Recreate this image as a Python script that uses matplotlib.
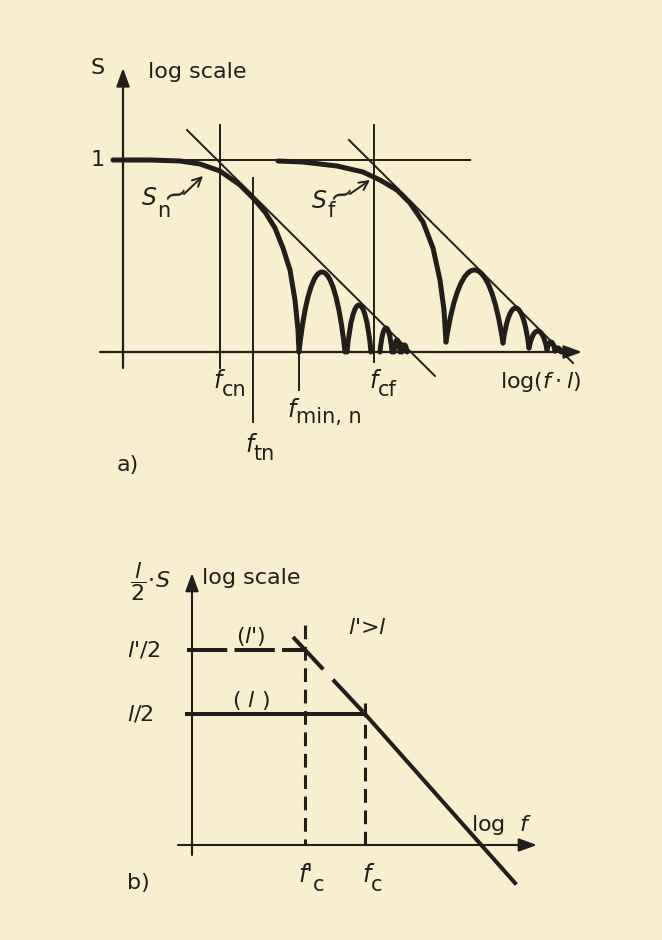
import matplotlib
matplotlib.use("Agg")
import matplotlib.pyplot as plt
from matplotlib.path import Path
from matplotlib.patches import PathPatch

INK = "#221e1a"
PAPER = "#f8efcf"

plt.rcParams["font.family"] = "DejaVu Sans"
plt.rcParams["mathtext.fontset"] = "custom"
plt.rcParams["mathtext.rm"] = "DejaVu Sans"
plt.rcParams["mathtext.it"] = "DejaVu Sans:italic"

# ---- a) S on log scale against log(f*l), drawing units ----
level_one = 192          # S = 1
f_cn, f_tn, f_min_n, f_cf = 97, 130, 176, 251

# main lobe of S_n
sn_main_x = [-10, 27, 57, 77, 97, 117, 130, 142, 152, 160, 167, 172, 175, 176]
sn_main_y = [192, 192, 191, 188, 181, 167, 154, 140, 124, 104, 82, 52, 22, 0]
# side lobes of S_n (left foot, right foot, peak)
sn_lobe_left = [176, 224, 257, 271, 279]
sn_lobe_right = [222, 248, 269, 277, 284]
sn_lobe_peak = [80, 47, 24, 12, 7]

# main lobe of S_f
sf_main_x = [155, 180, 214, 240, 257, 274, 287, 300, 310, 317, 321, 323]
sf_main_y = [191, 190, 186, 180, 172, 162, 149, 130, 104, 72, 42, 10]
# nulls of S_f (position, depth) and lobe peaks between them
sf_null_x = [323, 380, 406, 424, 432, 438]
sf_null_y = [10, 9, 4, 2, 1, 0]
sf_lobe_peak = [82, 44, 21, 10, 4]

# asymptotes
asym_n_x = [64, 312]
asym_n_y = [222, -24]
asym_f_x = [226, 450]
asym_f_y = [212, -11]

# ---- b) (l/2)*S against log f ----
half_l = 131
half_lp = 195
f_c = 173
f_cp = 113
slope_dash_x = [101, 173]
slope_dash_y = [208, 131]
slope_solid_x = [173, 323]
slope_solid_y = [131, -38]

fig = plt.figure(figsize=(6.62, 9.4), dpi=100)
fig.patch.set_facecolor(PAPER)

ax_a = fig.add_axes([0, 0, 1, 1])
ax_a.set_xlim(-123, 539)
ax_a.set_ylim(-588, 352)
ax_b = fig.add_axes([0, 0, 1, 1])
ax_b.set_xlim(-192, 470)
ax_b.set_ylim(-95, 845)
for ax in (ax_a, ax_b):
    ax.axis("off")
    ax.patch.set_alpha(0)

FS = 16
THICK = 3.6
THIN = 1.4


def axis_arrow(ax, x0, y0, x1, y1, lw=1.6):
    ax.annotate("", xy=(x1, y1), xytext=(x0, y0),
                arrowprops=dict(arrowstyle="-|>,head_length=0.55,head_width=0.2",
                                mutation_scale=20, lw=lw, color=INK,
                                shrinkA=0, shrinkB=0))


def lobe(ax, x0, x1, peak, y0=0, y1=0, lw=THICK):
    # arch between two nulls, apex at the peak height
    h = (8 * peak - y0 - y1) / 6
    k = 0.25 * (x1 - x0)
    verts = [(x0, y0), (x0 + k, h), (x1 - k, h), (x1, y1)]
    codes = [Path.MOVETO, Path.CURVE4, Path.CURVE4, Path.CURVE4]
    ax.add_patch(PathPatch(Path(verts, codes), fill=False, lw=lw, ec=INK,
                           capstyle="round", joinstyle="round"))


def sub_label(ax, x, y_main, y_sub, main, sub, main_style="italic",
              size=17, sub_size=15):
    ax.text(x, y_main, main, ha="right", va="baseline", fontsize=size,
            style=main_style, color=INK)
    ax.text(x, y_sub, sub, ha="left", va="baseline", fontsize=sub_size,
            color=INK)


# ---------------- a) ----------------
axis_arrow(ax_a, 0, -16, 0, 284)
axis_arrow(ax_a, -23, 0, 459, 0)

ax_a.plot([0, 347], [level_one, level_one], color=INK, lw=THIN)
ax_a.plot([f_cn, f_cn], [227, -16], color=INK, lw=THIN)
ax_a.plot([f_tn, f_tn], [174, -70], color=INK, lw=THIN)
ax_a.plot([f_min_n, f_min_n], [0, -38], color=INK, lw=THIN)
ax_a.plot([f_cf, f_cf], [227, -10], color=INK, lw=THIN)
ax_a.plot(asym_n_x, asym_n_y, color=INK, lw=THIN)
ax_a.plot(asym_f_x, asym_f_y, color=INK, lw=THIN)

ax_a.plot(sn_main_x, sn_main_y, color=INK, lw=THICK,
          solid_joinstyle="round", solid_capstyle="round")
for l, r, p in zip(sn_lobe_left, sn_lobe_right, sn_lobe_peak):
    lobe(ax_a, l, r, p)

ax_a.plot(sf_main_x, sf_main_y, color=INK, lw=THICK,
          solid_joinstyle="round", solid_capstyle="round")
for i, p in enumerate(sf_lobe_peak):
    lobe(ax_a, sf_null_x[i], sf_null_x[i + 1], p,
         sf_null_y[i], sf_null_y[i + 1])

ax_a.text(-25, 284, "S", ha="center", va="center", fontsize=FS, color=INK)
ax_a.text(25, 280, "log scale", ha="left", va="center", fontsize=FS, color=INK)
ax_a.text(-25, level_one, "1", ha="center", va="center", fontsize=FS, color=INK)

sub_label(ax_a, 34, 147, 135, "S", "n")
sub_label(ax_a, 204, 144, 135, "S", "f")
for tx, ty, ex, ey in [(53, 157, 80, 176), (219, 157, 247, 172)]:
    ax_a.text(tx, ty, "~", ha="center", va="center", fontsize=22,
              rotation=20, color=INK)
    ax_a.annotate("", xy=(ex, ey), xytext=(tx + 8, ty + 1),
                  arrowprops=dict(arrowstyle="->,head_length=0.4,head_width=0.2",
                                  mutation_scale=16, lw=1.4, color=INK,
                                  shrinkA=0, shrinkB=0))

sub_label(ax_a, f_cn + 2, -36, -44, "f", "cn")
sub_label(ax_a, f_tn + 1, -100, -108, "f", "tn")
sub_label(ax_a, f_min_n - 3, -65, -71, "f", "min, n")
sub_label(ax_a, f_cf + 4, -36, -44, "f", "cf")
ax_a.text(418, -30, r"log$(f\cdot l)$", ha="center", va="center",
          fontsize=FS, color=INK)
ax_a.text(5, -113, "a)", ha="center", va="center", fontsize=FS, color=INK)

# ---------------- b) ----------------
axis_arrow(ax_b, 0, -10, 0, 272, lw=1.5)
axis_arrow(ax_b, -14, 0, 345, 0, lw=1.5)

ax_b.plot([-5, f_cp], [half_lp, half_lp], color=INK, lw=2.9,
          ls=(0, (10, 1.8)), dash_capstyle="butt")
ax_b.plot([-5, f_c], [half_l, half_l], color=INK, lw=2.9)
ax_b.plot([f_cp, f_cp], [220, 0], color=INK, lw=2.2, ls=(0, (4.5, 2.5)))
ax_b.plot([f_c, f_c], [142, 0], color=INK, lw=2.2, ls=(0, (4.5, 2.5)))
ax_b.plot(slope_dash_x, slope_dash_y, color=INK, lw=2.9, ls=(0, (11, 3.5)))
ax_b.plot(slope_solid_x, slope_solid_y, color=INK, lw=2.9)

ax_b.text(-42, 263, r"$\dfrac{l}{2}\!\cdot\! S$", ha="center", va="center",
          fontsize=FS, color=INK)
ax_b.text(10, 267, "log scale", ha="left", va="center", fontsize=FS, color=INK)
ax_b.text(-65, half_lp, "$l$'/2", ha="left", va="center", fontsize=FS, color=INK)
ax_b.text(-65, half_l, "$l$/2", ha="left", va="center", fontsize=FS, color=INK)
ax_b.text(59, 209, "($l$')", ha="center", va="center", fontsize=FS, color=INK)
ax_b.text(59, 145, r"( $l$ )", ha="center", va="center", fontsize=FS, color=INK)
ax_b.text(176, 217, "$l$'>$l$", ha="center", va="center", fontsize=FS, color=INK)
ax_b.text(309, 20, r"log  $f$", ha="center", va="center", fontsize=FS, color=INK)

sub_label(ax_b, f_cp + 8, -37, -46, "f'", "c")
sub_label(ax_b, f_c + 6, -37, -46, "f", "c")
ax_b.text(-54, -38, "b)", ha="center", va="center", fontsize=FS, color=INK)

fig.savefig("out.png", dpi=100, facecolor=PAPER)
